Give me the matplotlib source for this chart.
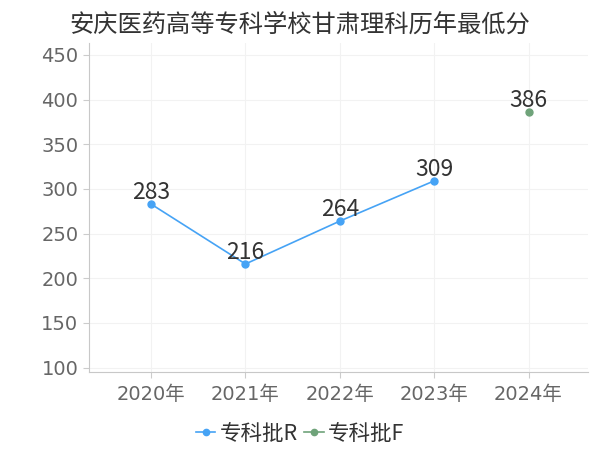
import matplotlib
matplotlib.use("Agg")
import matplotlib.pyplot as plt

# ── Data ──────────────────────────────────────────────────────────────────────
years = ["2020年", "2021年", "2022年", "2023年", "2024年"]
r_idx = [0, 1, 2, 3]
r_scores = [283, 216, 264, 309]
f_idx = [4]
f_scores = [386]
y_ticks = [100, 150, 200, 250, 300, 350, 400, 450]

COLOR_R = "#46a3f5"
COLOR_F = "#6fa37a"
CJK = ["Noto Sans CJK SC", "DejaVu Sans"]
TICK_FONT = ["DejaVu Sans", "Noto Sans CJK SC"]

plt.rcParams["font.family"] = CJK

fig = plt.figure(figsize=(6, 4.5), dpi=100)
ax = fig.add_axes([0.148, 0.173, 0.832, 0.731])

ax.plot(r_idx, r_scores, color=COLOR_R, lw=1.2, marker="o", ms=5, label="专科批R")
ax.plot(f_idx, f_scores, color=COLOR_F, lw=1.2, marker="o", ms=5, label="专科批F")

for x, y in zip(r_idx, r_scores):
    ax.annotate(str(y), (x, y), textcoords="offset points", xytext=(0, 0),
                ha="center", va="bottom", fontsize=16.5, color="#333333")
for x, y in zip(f_idx, f_scores):
    ax.annotate(str(y), (x, y), textcoords="offset points", xytext=(0, 0),
                ha="center", va="bottom", fontsize=16.5, color="#333333")

ax.set_xlim(-0.66, 4.63)
ax.set_ylim(95, 463)
ax.set_xticks(range(len(years)))
ax.set_xticklabels(years)
ax.set_yticks(y_ticks)
ax.tick_params(axis="both", labelsize=14, labelcolor="#666666", color="#cccccc",
               length=4, width=0.8)
ax.tick_params(axis="x", pad=5)
for lab in ax.get_yticklabels():
    lab.set_family(TICK_FONT)
for lab in ax.get_xticklabels():
    lab.set_family(TICK_FONT)

ax.grid(True, color="#f2f2f2", lw=0.8)
ax.set_axisbelow(True)
for s in ["top", "right"]:
    ax.spines[s].set_visible(False)
ax.spines["left"].set_color("#c8c8c8")
ax.spines["bottom"].set_color("#c8c8c8")

fig.suptitle("安庆医药高等专科学校甘肃理科历年最低分", x=0.5, y=0.975,
             fontsize=17.5, color="#333333")

fig.legend(loc="lower center", bbox_to_anchor=(0.5, -0.032), ncol=2, frameon=False,
           fontsize=15.5, handlelength=0.9, handletextpad=0.2, columnspacing=0.3,
           markerscale=0.9, labelcolor="#333333")

fig.savefig("out.png", dpi=100)
